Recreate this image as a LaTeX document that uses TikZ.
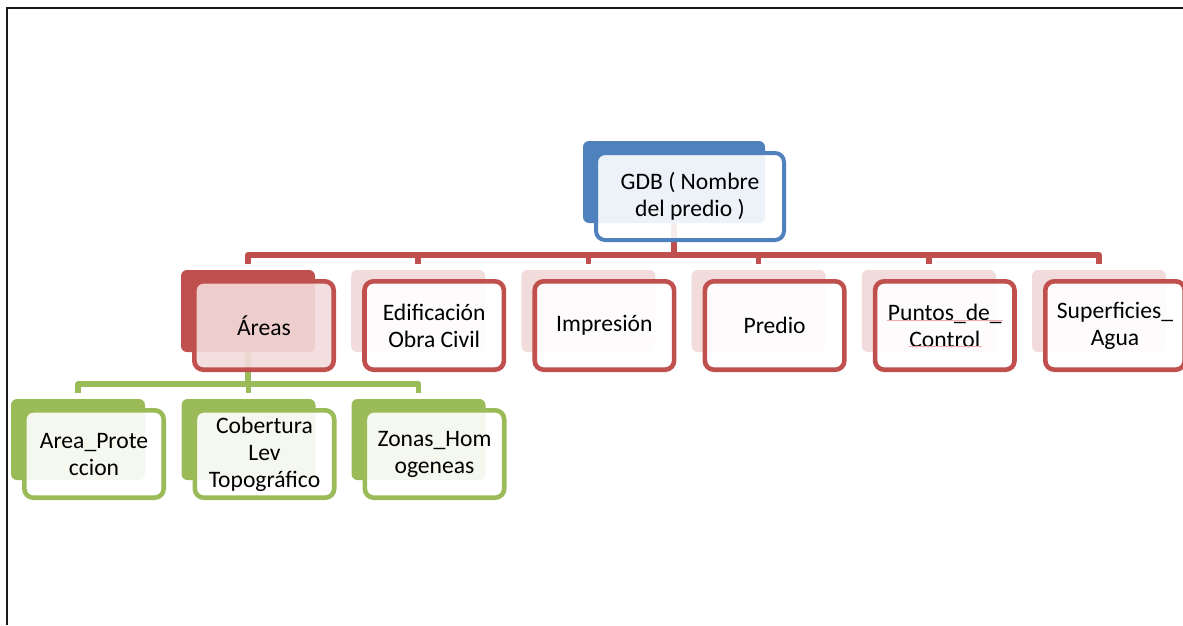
\documentclass[tikz,border=0pt]{standalone}
\usepackage{fontspec}
\setmainfont{Carlito}
\usetikzlibrary{calc}

\definecolor{accblue}{HTML}{4F81BD}
\definecolor{accred}{HTML}{C0504D}
\definecolor{accgreen}{HTML}{9BBB59}
\definecolor{palered}{HTML}{F2DCDB}
\definecolor{spellred}{HTML}{F7A8A8}

\tikzset{
  backbox/.style={rectangle, rounded corners=6pt, draw=none, inner sep=0pt,
    minimum width=134pt, minimum height=82pt},
  frontbox/.style={rectangle, rounded corners=9pt, line width=4.6pt, inner sep=0pt,
    minimum width=139.4pt, minimum height=88.4pt, align=center,
    font=\fontsize{23.6}{27}\selectfont, text=black},
  redback/.style={backbox, fill=palered},
  redfront/.style={frontbox, draw=accred, fill=white, fill opacity=0.9, text opacity=1},
  mainback/.style={backbox, fill=accred},
  mainfront/.style={frontbox, draw=accred, fill=palered, fill opacity=0.9, text opacity=1},
  greenback/.style={backbox, fill=accgreen, minimum height=81pt},
  greenfront/.style={frontbox, draw=accgreen, fill=white, fill opacity=0.9, text opacity=1,
    minimum height=87.4pt},
  rootback/.style={backbox, fill=accblue, minimum width=182pt},
  rootfront/.style={frontbox, draw=accblue, line width=4pt, fill=white, fill opacity=0.9,
    text opacity=1, minimum width=188pt, minimum height=87pt},
  redline/.style={draw=accred, line width=5.5pt, line join=round},
  greenline/.style={draw=accgreen, line width=5.5pt, line join=round},
  spell/.style={draw=spellred, line width=0.8pt},
}

\begin{document}
\begin{tikzpicture}[x=1pt, y=-1pt]
  \useasboundingbox (0,0) rectangle (1183,625);

  % page frame
  \draw[line width=2.2pt, color=black!90] (7,625) -- (7,8) -- (1183,8);

  % shadow boxes behind each entry
  \node[rootback]  (gdbB) at (674,182) {};
  \node[mainback]  (areasB) at (248,311) {};
  \node[redback]   (edifB)  at (418.2,311) {};
  \node[redback]   (imprB)  at (588.4,311) {};
  \node[redback]   (predB)  at (758.6,311) {};
  \node[redback]   (puntB)  at (928.8,311) {};
  \node[redback]   (supB)   at (1099,311) {};
  \node[greenback] (protB)  at (78,439.5) {};
  \node[greenback] (cobB)   at (248.5,439.5) {};
  \node[greenback] (zonB)   at (418.5,439.5) {};

  % tree connectors
  \foreach \c in {areasB,edifB,imprB,predB,puntB,supB}
    \draw[redline] (gdbB.south) -- ++(0,32) -| ([yshift=6pt]\c.north);
  \foreach \c in {protB,cobB,zonB}
    \draw[greenline] (areasB.south) -- ++(0,32) -| ([yshift=6pt]\c.north);

  % entries
  \node[rootfront]  (gdb)   at (690,196.5) {GDB ( Nombre\\del predio )};
  \node[mainfront]  (areas) at (264,325.5) {Áreas};
  \node[redfront]   (edif)  at (434.2,325.5) {Edificación\\Obra Civil};
  \node[redfront]   (impr)  at (604.4,325.5) {Impresión};
  \node[redfront]   (pred)  at (774.6,325.5) {Predio};
  \node[redfront]   (punt)  at (944.8,325.5) {Puntos\_de\_\\Control};
  \node[redfront]   (sup)   at (1115,325.5) {Superficies\_\\Agua};
  \node[greenfront] (prot)  at (94,454) {Area\_Prote\\ccion};
  \node[greenfront] (cob)   at (264.5,454) {Cobertura\\Lev\\Topográfico};
  \node[greenfront] (zon)   at (434.5,454) {Zonas\_Hom\\ogeneas};

  % spell-check marks under the control-point label
  \draw[spell] ($(punt.center)+(-58,-5)$) -- ++(116,0);
  \draw[spell] ($(punt.center)+(-36,21)$) -- ++(73,0);
\end{tikzpicture}
\end{document}
